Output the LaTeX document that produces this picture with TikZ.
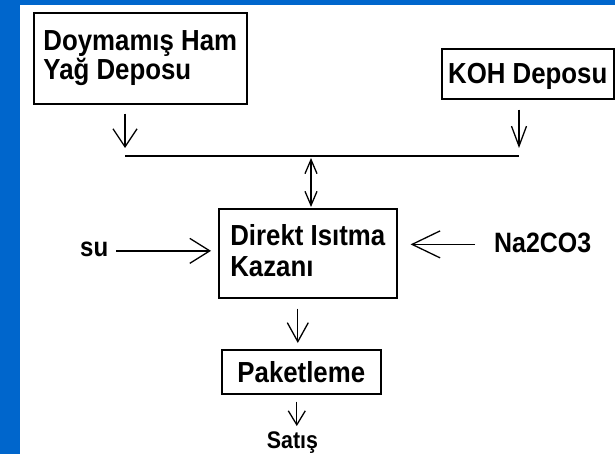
\documentclass[tikz,border=0pt]{standalone}
\usepackage{fontspec}
\setmainfont{Liberation Sans}[FakeStretch=0.89]
\usetikzlibrary{arrows.meta}
\definecolor{bgblue}{RGB}{0,102,204}
\begin{document}
\begin{tikzpicture}[x=1pt,y=-1pt,
  box/.style={draw=black, line width=1.6pt, fill=white, align=left, inner sep=0pt,
    font=\fontsize{29}{29}\selectfont\bfseries},
  lbl/.style={inner sep=0pt},
  conn/.style={draw=black, line width=1.3pt},
  arr/.style 2 args={conn, -{Straight Barb[length=#1,width=#2,line width=1.3pt]}},
  darr/.style={conn, {Straight Barb[length=14pt,width=12pt,line width=1.3pt]}-{Straight Barb[length=14pt,width=12pt,line width=1.3pt]}}
]
\useasboundingbox (0,0) rectangle (615,454);
\fill[white] (0,0) rectangle (615,454);
\fill[bgblue] (0,0) rectangle (615,5);
\fill[bgblue] (0,0) rectangle (20,454);

\node[box, anchor=north west, minimum width=213pt, minimum height=91pt] (A) at (33,12) {Doymamış Ham\\Yağ Deposu};
\node[box, anchor=north west, minimum width=172pt, minimum height=50pt, text depth=0pt] (B) at (441,48) {KOH Deposu};
\node[box, anchor=north west, minimum width=178pt, minimum height=89pt, text depth=6pt,
  font=\fontsize{29}{31}\selectfont\bfseries] (C) at (218,208) {Direkt Isıtma\\Kazanı};
\node[box, anchor=north west, minimum width=159pt, minimum height=44pt, text depth=0pt] (D) at (221,349) {Paketleme};

\node[lbl, anchor=base west, font=\fontsize{27}{30}\selectfont\bfseries] (su) at (80,256) {su};
\node[lbl, anchor=base west, font=\fontsize{28}{30}\selectfont\bfseries] (N) at (494,252) {Na2CO3};
\node[lbl, anchor=base, font=\fontsize{24}{28}\selectfont\bfseries] (S) at (292.5,448) {Satış};

\coordinate (jl) at (125,156);
\coordinate (jm) at (311,156);
\coordinate (jr) at (519,156);
\draw[conn] (jl) -- (jr);

\draw[arr={18pt}{24pt}] ([yshift=-9pt]A.south -| jl) -- ([yshift=8pt]jl);
\draw[arr={20pt}{15pt}] ([yshift=-10pt]B.south -| jr) -- ([yshift=8pt]jr);
\draw[darr] ([yshift=-2pt]jm) -- ([yshift=1pt]C.north -| jm);
\draw[arr={20pt}{25pt}] ([xshift=8pt,yshift=-2pt]su.east) -- ([xshift=-7pt,yshift=-2pt]su.east -| C.west);
\draw[arr={28pt}{27pt}] ([xshift=-19pt,yshift=-2pt]N.west) -- ([xshift=13pt,yshift=-2pt]N.west -| C.east);
\draw[arr={19pt}{21pt}] ([xshift=-10pt,yshift=-10pt]C.south) -- ([xshift=-10pt,yshift=6pt]C.south |- D.north);
\draw[arr={14pt}{17pt}] ([xshift=-4.5pt,yshift=-7pt]D.south) -- ([xshift=-4.5pt,yshift=5pt]D.south |- S.north);
\end{tikzpicture}
\end{document}
